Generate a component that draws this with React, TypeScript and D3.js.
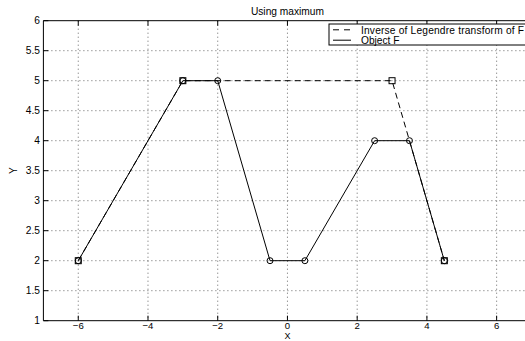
import React, { useEffect, useRef } from 'react';
import * as d3 from 'd3';

// Object F (solid, circle markers)
const objectX = [-6, -3, -2, -0.5, 0.5, 2.5, 3.5, 4.5];
const objectY = [2, 5, 5, 2, 2, 4, 4, 2];

// Inverse of Legendre transform (dashed, square markers)
const inverseX = [-6, -3, 3, 4.5];
const inverseY = [2, 5, 5, 2];

const xTicks = [-6, -4, -2, 0, 2, 4, 6];
const yTicks = [1, 1.5, 2, 2.5, 3, 3.5, 4, 4.5, 5, 5.5, 6];

const legendLabels = ['Inverse of Legendre transform of F', 'Object F'];

const App = () => {
  const svgRef = useRef<SVGSVGElement>(null);

  useEffect(() => {
    if (!svgRef.current) return;
    const svg = d3.select(svgRef.current);
    svg.selectAll('*').remove();

    const font = 'Liberation Sans, Arial, sans-serif';
    const fs = 10.2;
    const left = 43.4, right = 531.5, top = 20.7, bottom = 320.7;

    const x = d3.scaleLinear().domain([-7, 7]).range([left, right]);
    const y = d3.scaleLinear().domain([1, 6]).range([bottom, top]);

    svg.append('rect').attr('width', 525).attr('height', 341).attr('fill', '#fff');

    // grid
    const grid = svg.append('g').attr('stroke', '#000').attr('stroke-width', 0.6)
      .attr('stroke-dasharray', '1,3');
    xTicks.forEach(t => {
      grid.append('line').attr('x1', x(t)).attr('x2', x(t)).attr('y1', top).attr('y2', bottom);
    });
    yTicks.slice(1, -1).forEach(t => {
      grid.append('line').attr('x1', left).attr('x2', right).attr('y1', y(t)).attr('y2', y(t));
    });

    // axes box (left, top, bottom), ticks inward
    const box = svg.append('g').attr('stroke', '#000').attr('stroke-width', 1).attr('fill', 'none');
    box.append('line').attr('x1', left).attr('x2', left).attr('y1', top).attr('y2', bottom);
    box.append('line').attr('x1', left).attr('x2', right).attr('y1', top).attr('y2', top);
    box.append('line').attr('x1', left).attr('x2', right).attr('y1', bottom).attr('y2', bottom);
    xTicks.forEach(t => {
      box.append('line').attr('x1', x(t)).attr('x2', x(t)).attr('y1', bottom).attr('y2', bottom - 5);
      box.append('line').attr('x1', x(t)).attr('x2', x(t)).attr('y1', top).attr('y2', top + 5);
    });
    yTicks.forEach(t => {
      box.append('line').attr('x1', left).attr('x2', left + 5).attr('y1', y(t)).attr('y2', y(t));
    });

    // tick labels
    svg.append('g').selectAll('text').data(xTicks).enter().append('text')
      .attr('x', d => x(d)).attr('y', 329.2)
      .attr('text-anchor', 'middle').attr('font-family', font).attr('font-size', 9.6)
      .text(d => (d < 0 ? '\u2212' + Math.abs(d) : String(d)));
    svg.append('g').selectAll('text').data(yTicks).enter().append('text')
      .attr('x', left - 3.5).attr('y', d => y(d) + 3.7)
      .attr('text-anchor', 'end').attr('font-family', font).attr('font-size', fs)
      .text(d => String(d));

    // titles
    svg.append('text').attr('x', x(0)).attr('y', 15).attr('text-anchor', 'middle')
      .attr('font-family', font).attr('font-size', fs).text('Using maximum');
    svg.append('text').attr('x', x(0)).attr('y', 339).attr('text-anchor', 'middle')
      .attr('font-family', font).attr('font-size', 9).text('X');
    svg.append('text').attr('transform', `translate(17,${y(3.5)}) rotate(-90)`)
      .attr('text-anchor', 'middle').attr('font-family', font).attr('font-size', fs).text('Y');

    const line = d3.line<[number, number]>().x(d => x(d[0])).y(d => y(d[1]));
    const inverse = inverseX.map((v, i) => [v, inverseY[i]] as [number, number]);
    const object = objectX.map((v, i) => [v, objectY[i]] as [number, number]);

    svg.append('path').attr('d', line(inverse)).attr('fill', 'none').attr('stroke', '#000')
      .attr('stroke-width', 1).attr('stroke-dasharray', '6,4');
    svg.append('g').selectAll('rect').data(inverse).enter().append('rect')
      .attr('x', d => x(d[0]) - 3).attr('y', d => y(d[1]) - 3).attr('width', 6).attr('height', 6)
      .attr('fill', 'none').attr('stroke', '#000').attr('stroke-width', 1);

    svg.append('path').attr('d', line(object)).attr('fill', 'none').attr('stroke', '#000')
      .attr('stroke-width', 1);
    svg.append('g').selectAll('circle').data(object).enter().append('circle')
      .attr('cx', d => x(d[0])).attr('cy', d => y(d[1])).attr('r', 3)
      .attr('fill', 'none').attr('stroke', '#000').attr('stroke-width', 1);

    // legend
    const lg = svg.append('g');
    lg.append('rect').attr('x', 329).attr('y', 24).attr('width', 220).attr('height', 21)
      .attr('fill', '#fff').attr('stroke', '#000').attr('stroke-width', 1);
    legendLabels.forEach((label, i) => {
      const ly = 29.8 + i * 10.4;
      lg.append('line').attr('x1', 333).attr('x2', 351).attr('y1', ly).attr('y2', ly)
        .attr('stroke', '#000').attr('stroke-width', 1)
        .attr('stroke-dasharray', i === 0 ? '6,5' : null);
      lg.append('text').attr('x', 361).attr('y', ly + 3.7).attr('font-family', font)
        .attr('font-size', fs).attr('textLength', i === 0 ? 163 : null)
        .text(label);
    });
  }, []);

  return (
    <svg ref={svgRef} width={525} height={341}
      style={{ position: 'absolute', left: 0, top: 0 }} />
  );
};

export default App;
